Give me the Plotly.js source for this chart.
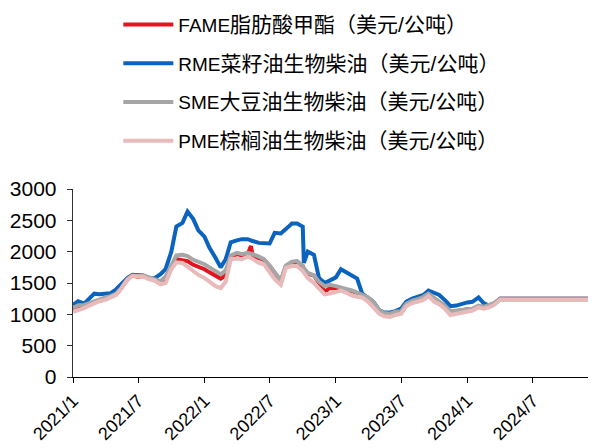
<!DOCTYPE html>
<html>
<head>
<meta charset="utf-8">
<script src="https://cdn.plot.ly/plotly-3.0.1.min.js"></script>
<style>html,body{margin:0;padding:0;background:#fff;}#chart{width:593px;height:447px;}</style>
</head>
<body>
<div id="chart"></div>
<script>
const dates = [
"2021-01-01","2021-01-15","2021-02-01","2021-02-15","2021-03-01","2021-03-15","2021-04-01","2021-04-15","2021-05-01","2021-05-15",
"2021-06-01","2021-06-15","2021-07-01","2021-07-15","2021-08-01","2021-08-15","2021-09-01","2021-09-15","2021-10-01","2021-10-15",
"2021-11-01","2021-11-15","2021-12-01","2021-12-15","2022-01-01","2022-01-15","2022-02-01","2022-02-15","2022-03-01","2022-03-15",
"2022-04-01","2022-04-15","2022-05-01","2022-05-10","2022-05-15","2022-06-01","2022-06-15","2022-07-01","2022-07-15","2022-08-01",
"2022-08-15","2022-09-01","2022-09-15","2022-10-01","2022-10-04","2022-10-15","2022-11-01","2022-11-15","2022-12-01","2022-12-15",
"2023-01-01","2023-01-15","2023-02-01","2023-02-15","2023-03-01","2023-03-15","2023-04-01","2023-04-15","2023-05-01","2023-05-15",
"2023-06-01","2023-06-15","2023-07-01","2023-07-15","2023-08-01","2023-08-15","2023-09-01","2023-09-15","2023-10-01","2023-10-15",
"2023-11-01","2023-11-15","2023-12-01","2023-12-15","2024-01-01","2024-01-15","2024-02-01","2024-02-15","2024-03-01","2024-03-15",
"2024-04-01","2024-04-15","2024-12-05"];

const fame = [1090,1130,1130,1160,1200,1230,1250,1280,1320,1420,
1560,1620,1600,1610,1570,1560,1520,1580,1760,1880,
1870,1850,1790,1760,1720,1670,1610,1570,1620,1900,
1960,1940,1960,2090,1930,1900,1870,1770,1650,1530,
1770,1830,1840,1770,1690,1650,1620,1490,1360,1420,
1420,1410,1380,1370,1340,1300,1260,1190,1060,1010,
1000,1030,1040,1160,1210,1230,1270,1320,1250,1200,
1120,1040,1050,1070,1080,1080,1130,1110,1140,1170,
1250,1250,1250];

const rme = [1150,1210,1170,1250,1330,1320,1320,1335,1400,1480,
1580,1630,1620,1620,1580,1575,1640,1720,2000,2400,
2460,2640,2520,2340,2240,2060,1900,1750,1880,2150,
2180,2200,2200,2190,2170,2140,2140,2130,2300,2290,
2360,2450,2450,2400,1820,2000,1950,1580,1500,1540,
1590,1720,1670,1620,1570,1330,1250,1200,1070,1030,
1030,1050,1090,1200,1250,1270,1310,1380,1350,1310,
1220,1130,1140,1170,1190,1200,1270,1180,1140,1160,
1250,1250,1250];

const sme = [1100,1140,1150,1180,1220,1250,1270,1290,1330,1420,
1560,1620,1610,1620,1580,1560,1530,1600,1780,1940,
1950,1930,1870,1840,1800,1750,1690,1640,1700,1940,
1980,1960,1980,1970,1960,1920,1880,1780,1660,1540,
1780,1840,1850,1780,1740,1660,1620,1520,1450,1470,
1450,1420,1400,1380,1350,1310,1270,1200,1070,1020,
1010,1040,1050,1170,1220,1240,1280,1330,1260,1210,
1130,1050,1060,1080,1090,1090,1140,1120,1150,1180,
1250,1250,1250];

const pme = [1040,1060,1100,1140,1180,1210,1230,1260,1310,1410,
1550,1610,1600,1600,1560,1540,1480,1500,1720,1830,
1820,1760,1700,1630,1580,1520,1450,1420,1520,1880,
1890,1880,1920,1900,1880,1820,1800,1680,1560,1470,
1740,1770,1770,1690,1660,1580,1500,1420,1320,1330,
1360,1380,1340,1300,1280,1270,1200,1120,1010,970,
960,990,1010,1130,1180,1200,1230,1290,1200,1160,
1080,990,1010,1030,1050,1060,1110,1090,1110,1150,
1230,1230,1230];

const seriesCodes = ["FAME","RME","SME","PME"];
const seriesCn = ["脂肪酸甲酯（美元/公吨）","菜籽油生物柴油（美元/公吨）","大豆油生物柴油（美元/公吨）","棕榈油生物柴油（美元/公吨）"];
const tickDates = ["2021-01-01","2021-07-01","2022-01-01","2022-07-01","2023-01-01","2023-07-01","2024-01-01","2024-07-01"];
const tickLabels = ["2021/1","2021/7","2022/1","2022/7","2023/1","2023/7","2024/1","2024/7"];

const colors = ["#E3141E","#0A63BE","#A6A6A6","#E8BAB9"];
const values = [fame, rme, sme, pme];
const traces = values.map((v,i)=>({
  x: dates, y: v, type:"scatter", mode:"lines",
  name: seriesCodes[i] + '<span style="font-size:21px">' + seriesCn[i] + '</span>',
  legendgroup: "g"+i,
  line:{color:colors[i], width:4}
}));

const fontFam = "Liberation Sans, Arial, Noto Sans CJK SC, sans-serif";
const layout = {
  width:593, height:447,
  margin:{l:73, r:5, t:187, b:70},
  paper_bgcolor:"#fff", plot_bgcolor:"#fff",
  font:{family:fontFam, color:"#000"},
  showlegend:true,
  legend:{x:0.088, xanchor:"left", y:1.975, yanchor:"top", font:{size:19, family:fontFam, color:"#000"},
          tracegroupgap:11, itemwidth:50, bgcolor:"rgba(0,0,0,0)"},
  xaxis:{type:"date", range:["2021-01-01","2024-12-01"], tickmode:"array", tickvals:tickDates, ticktext:tickLabels,
         tickangle:-45, tickfont:{size:18, family:fontFam, color:"#000"}, showgrid:false, zeroline:false,
         showline:true, linecolor:"#000", linewidth:1.3, ticks:"outside", ticklen:5, tickcolor:"#000"},
  yaxis:{range:[0,3000], dtick:500, tick0:0, tickfont:{size:21, family:fontFam, color:"#000"}, showgrid:false, zeroline:false,
         showline:true, linecolor:"#333", linewidth:1.3, ticks:"outside", ticklen:5, tickcolor:"#333", ticklabelstandoff:6}
};
Plotly.newPlot("chart", traces, layout, {displayModeBar:false, staticPlot:true});
</script>
</body>
</html>
